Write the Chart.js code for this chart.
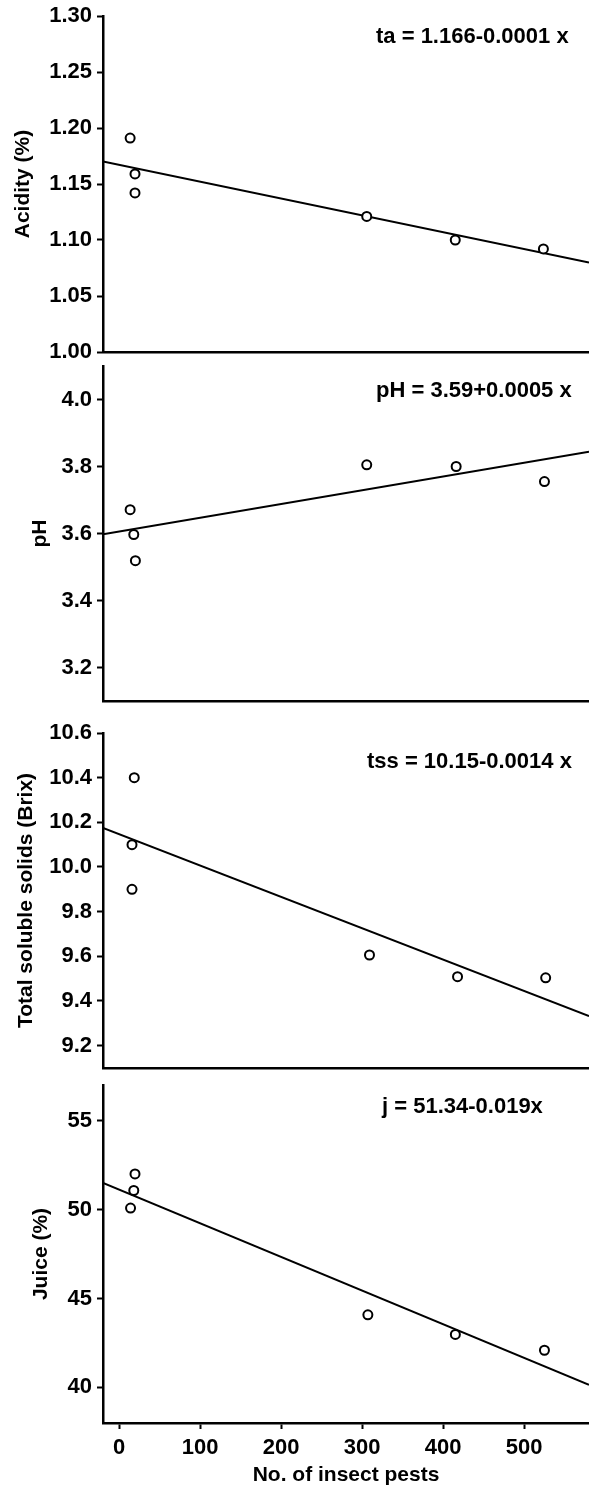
<!DOCTYPE html>
<html>
<head>
<meta charset="utf-8">
<script src="https://cdn.jsdelivr.net/npm/chart.js@4"></script>
<style>
  html, body { margin: 0; padding: 0; background: #fff; }
  #wrap { position: relative; width: 589px; height: 1488px; }
  canvas { position: absolute; left: 0; }
</style>
</head>
<body>
<div id="wrap">
  <canvas id="c1" width="589" height="365" style="top:0px"></canvas>
  <canvas id="c2" width="589" height="364" style="top:350px"></canvas>
  <canvas id="c3" width="589" height="366" style="top:715px"></canvas>
  <canvas id="c4" width="589" height="420" style="top:1068px"></canvas>
</div>
<script>
// x range and ticks (No. of insect pests)
var xRange = [-20, 580];
var xTicks = [0, 100, 200, 300, 400, 500];

// acidity panel
var acidX = [13.5, 19.5, 19.5, 305.6, 414.9, 523.7];
var acidY = [1.191, 1.159, 1.142, 1.121, 1.100, 1.092];
var acidFit = [1.170, 1.080]; // fitted line at xRange ends
var acidTicks = [1.00, 1.05, 1.10, 1.15, 1.20, 1.25, 1.30];

// pH panel
var phX = [13.5, 18, 20, 305.6, 416, 525];
var phY = [3.671, 3.597, 3.519, 3.805, 3.800, 3.755];
var phFit = [3.598, 3.844];
var phTicks = [3.2, 3.4, 3.6, 3.8, 4.0];

// total soluble solids panel
var tssX = [18.6, 15.8, 15.8, 309, 417.7, 526.5];
var tssY = [10.40, 10.10, 9.90, 9.606, 9.509, 9.504];
var tssFit = [10.175, 9.332];
var tssTicks = [9.2, 9.4, 9.6, 9.8, 10.0, 10.2, 10.4, 10.6];

// juice panel
var juiceX = [19.5, 18, 14, 307, 415, 525];
var juiceY = [52.0, 51.07, 50.08, 44.08, 42.98, 42.09];
var juiceFit = [51.50, 40.145];
var juiceTicks = [40, 45, 50, 55];

var FONT = "'Liberation Sans', Arial, sans-serif";
Chart.defaults.font.family = FONT;
Chart.defaults.font.weight = 'bold';
Chart.defaults.font.size = 22;
Chart.defaults.color = '#000';

// equation text in the top right of each panel
var eqLabel = {
  id: 'eqLabel',
  afterDraw: function (chart, args, opts) {
    var ctx = chart.ctx, a = chart.chartArea;
    ctx.save();
    ctx.font = 'bold 22px ' + FONT;
    ctx.fillStyle = '#000';
    ctx.textBaseline = 'middle';
    ctx.fillText(opts.text, a.left + opts.dx, a.top + opts.dy);
    ctx.restore();
  }
};

function makePanel(id, xs, ys, fit, yMin, yMax, ticks, dec, yTitle, titlePad, eq, pad, showX) {
  var pts = xs.map(function (x, i) { return { x: x, y: ys[i] }; });
  var xScale = {
    type: 'linear',
    min: xRange[0],
    max: xRange[1],
    border: { color: '#000', width: 2.5 },
    ticks: { display: false },
    grid: { display: false },
    afterFit: function (s) { s.height = 0; s.paddingLeft = 0; s.paddingRight = 0; }
  };
  if (showX) {
    xScale.ticks = { display: true, padding: 6, maxRotation: 0 };
    xScale.grid = { display: true, drawOnChartArea: false, tickLength: 6, tickWidth: 2, tickColor: '#000' };
    xScale.afterBuildTicks = function (s) { s.ticks = xTicks.map(function (v) { return { value: v }; }); };
    xScale.title = { display: true, text: 'No. of insect pests', font: { size: 21 }, padding: { top: 0, bottom: 0 } };
    xScale.afterFit = function (s) { s.height = 65; s.paddingLeft = 0; s.paddingRight = 0; };
  }
  return new Chart(document.getElementById(id), {
    type: 'scatter',
    data: {
      datasets: [
        {
          data: pts,
          pointRadius: 4.5,
          pointBorderWidth: 2,
          pointBackgroundColor: '#fff',
          pointBorderColor: '#000',
          order: 0
        },
        {
          data: [{ x: xRange[0], y: fit[0] }, { x: xRange[1], y: fit[1] }],
          showLine: true,
          borderColor: '#000',
          borderWidth: 2,
          pointRadius: 0,
          order: 1
        }
      ]
    },
    options: {
      responsive: false,
      animation: false,
      events: [],
      layout: { padding: pad, autoPadding: false },
      plugins: {
        legend: { display: false },
        tooltip: { enabled: false },
        eqLabel: eq
      },
      scales: {
        x: xScale,
        y: {
          type: 'linear',
          min: yMin,
          max: yMax,
          afterBuildTicks: function (s) { s.ticks = ticks.map(function (v) { return { value: v }; }); },
          afterFit: function (s) { s.width = 103; s.paddingTop = 0; s.paddingBottom = 0; },
          ticks: { padding: 5, callback: function (v) { return Number(v).toFixed(dec); } },
          grid: { drawOnChartArea: false, tickLength: 6, tickWidth: 2, tickColor: '#000' },
          border: { color: '#000', width: 2.5 },
          title: { display: true, text: yTitle, font: { size: 21 }, padding: { top: titlePad, bottom: 0 } }
        }
      }
    },
    plugins: [eqLabel]
  });
}

makePanel('c1', acidX, acidY, acidFit, 1.00, 1.30, acidTicks, 2, 'Acidity (%)', 11,
  { text: 'ta = 1.166-0.0001 x', dx: 273, dy: 21 }, { top: 16, bottom: 13, left: 0, right: 0 }, false);
makePanel('c2', phX, phY, phFit, 3.1, 4.1, phTicks, 1, 'pH', 28,
  { text: 'pH = 3.59+0.0005 x', dx: 273, dy: 25 }, { top: 16, bottom: 13, left: 0, right: 0 }, false);
makePanel('c3', tssX, tssY, tssFit, 9.1, 10.6, tssTicks, 1, 'Total soluble solids (Brix)', 14,
  { text: 'tss = 10.15-0.0014 x', dx: 264, dy: 29 }, { top: 18, bottom: 13, left: 0, right: 0 }, false);
makePanel('c4', juiceX, juiceY, juiceFit, 38, 57, juiceTicks, 0, 'Juice (%)', 29,
  { text: 'j = 51.34-0.019x', dx: 279, dy: 22 }, { top: 17, bottom: 0, left: 0, right: 0 }, true);
</script>
</body>
</html>
